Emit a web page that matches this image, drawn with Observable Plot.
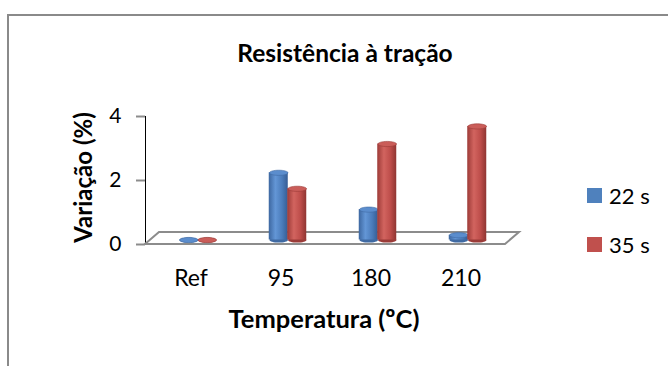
<!DOCTYPE html>
<html><head><meta charset="utf-8">
<script src="https://cdn.jsdelivr.net/npm/d3@7"></script>
<script src="https://cdn.jsdelivr.net/npm/@observablehq/plot@0.6"></script>
<style>
html,body{margin:0;padding:0;background:#fff;}
#wrap{position:relative;width:668px;height:366px;overflow:hidden;font-family:Lato,"Open Sans",sans-serif;}
#chart{position:absolute;left:0;top:0;}
#overlay{position:absolute;left:0;top:0;pointer-events:none;font-family:Lato,"Open Sans",sans-serif;}
#chart [aria-label^="y-axis"] line,#chart [aria-label^="y-axis"] path{stroke:#8c8c8c !important;stroke-width:2px !important;}
#chart [aria-label^="y-axis"] text{font-size:21px !important;fill:#000 !important;}
#chart [aria-label^="x-axis"] text{font-size:23px !important;fill:#000 !important;}
#chart [aria-label^="x-axis"] line,#chart [aria-label^="x-axis"] path{stroke:none !important;}
</style></head><body>
<div id="wrap">
<div id="chart"></div>
<svg id="overlay" width="668" height="366">
  <rect x="8" y="15" width="700" height="400" fill="none" stroke="#8a8a8a" stroke-width="2"/>
  <text x="345" y="62" text-anchor="middle" font-weight="700" font-size="24.5">Resistência à tração</text>
  <text transform="translate(92,177.5) rotate(-90)" text-anchor="middle" font-weight="700" font-size="24">Variação (%)</text>
  <text x="324" y="328" text-anchor="middle" font-weight="700" font-size="25.5">Temperatura (ºC)</text>
  <rect x="587" y="188" width="15" height="15" fill="#4F81BD"/>
  <text x="609" y="204" font-size="22">22 s</text>
  <rect x="587" y="237" width="15" height="15" fill="#C0504D"/>
  <text x="609" y="253" font-size="22">35 s</text>
</svg>
</div>
<script>
const categories = ["Ref", "95", "180", "210"];
const seriesNames = ["22 s", "35 s"];
const values22 = [0, 2.1, 0.95, 0.15];
const values35 = [0, 1.6, 3.0, 3.55];
const yTicks = [0, 2, 4];

const seriesValues = [values22, values35];
const rows = seriesNames.map((s, i) => categories.map((c, j) => ({cat: c, series: s, value: seriesValues[i][j]})));

const ellipse = {
  draw(ctx, size) {
    const rx = Math.sqrt(size / Math.PI), ry = rx * 0.28, k = 0.5523;
    ctx.moveTo(rx, 0);
    ctx.bezierCurveTo(rx, ry * k, rx * k, ry, 0, ry);
    ctx.bezierCurveTo(-rx * k, ry, -rx, ry * k, -rx, 0);
    ctx.bezierCurveTo(-rx, -ry * k, -rx * k, -ry, 0, -ry);
    ctx.bezierCurveTo(rx * k, -ry, rx, -ry * k, rx, 0);
    ctx.closePath();
  }
};

const topFill = ["#5b8dcd", "#ca5d59"];
const topStroke = ["#3f6aa3", "#9b3b38"];
const sideFill = ["url(#gBlue)", "url(#gRed)"];
const bottomFill = ["#3f6aa3", "#9b3b38"];

const floor = (index, scales, values, dimensions) => {
  const {width, marginLeft, marginRight} = dimensions;
  const x0 = marginLeft, x1 = width - marginRight, y0 = scales.y(0);
  const ddx = 14, ddy = -12;
  const p = d3.path();
  p.moveTo(x0, y0); p.lineTo(x0 + ddx, y0 + ddy); p.lineTo(x1 + ddx, y0 + ddy); p.lineTo(x1, y0); p.closePath();
  const path = d3.create("svg:path").attr("d", p.toString()).attr("fill", "#fff").attr("stroke", "#8c8c8c").attr("stroke-width", 2);
  return path.node();
};

const marks = [floor];
rows.forEach((data, i) => {
  const dx = 7 + (i === 0 ? -9.25 : 9.25), dy = -4.5;
  marks.push(Plot.dot(data, {x: "cat", y: () => 0, r: 9.25, symbol: ellipse, fill: bottomFill[i], dx, dy}));
  marks.push(Plot.barY(data, {x: "cat", y: "value", fill: sideFill[i], inset: 0, dx, dy}));
  marks.push(Plot.dot(data, {x: "cat", y: "value", r: 9.25, symbol: ellipse, fill: topFill[i], stroke: topStroke[i], strokeWidth: 0.6, dx, dy}));
});

const svg = Plot.plot({
  width: 668,
  height: 366,
  marginLeft: 145,
  marginRight: 163,
  marginTop: 116,
  marginBottom: 122,
  style: {fontFamily: "Lato, 'Open Sans', sans-serif", color: "#000", background: "transparent", overflow: "visible"},
  x: {domain: categories, paddingInner: 0.7944, paddingOuter: 0.3972, tickSize: 0, tickPadding: 25, label: null},
  y: {domain: [0, 4], ticks: yTicks, tickFormat: d => String(d), tickSize: 9, tickPadding: 15, line: true, label: null},
  marks
});

const defs = d3.select(svg).insert("defs", ":first-child");
function grad(id, stops) {
  const g = defs.append("linearGradient").attr("id", id).attr("x1", "0").attr("x2", "1").attr("y1", "0").attr("y2", "0");
  stops.forEach(([o, c]) => g.append("stop").attr("offset", o).attr("stop-color", c));
}
grad("gBlue", [[0, "#3d67a0"], [0.35, "#6396d6"], [0.7, "#4b7cbb"], [1, "#365d94"]]);
grad("gRed", [[0, "#9d3b38"], [0.35, "#d2645f"], [0.7, "#bd4d4a"], [1, "#8f3532"]]);

document.getElementById("chart").appendChild(svg);
</script>
</body></html>
